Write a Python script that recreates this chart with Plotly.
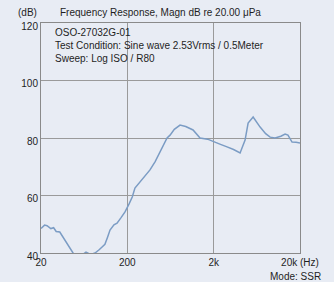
import plotly.graph_objects as go

freq_hz = [20, 22, 23.5, 26, 28, 30, 33, 36, 40, 44, 47, 52, 56.6, 61, 66.4, 75, 84.5, 95, 110, 118,
           126, 140, 152, 170, 188, 209, 228, 245, 281, 320, 366, 420, 478, 577, 625, 700, 816,
           950, 1154, 1391, 1700, 2020, 2400, 2858, 3400, 4045, 4623, 5012, 5729, 6902, 8000,
           9016, 10290, 12000, 13430, 14500, 16180, 18000, 20000]
spl_db = [48.5, 49.7, 49.5, 48.5, 48.8, 47.5, 47.3, 45.5, 43.5, 41.5, 40.0, 38.8, 38.5, 39.5, 40.3,
          39.5, 40.0, 41.2, 43.0, 45.5, 48.0, 49.8, 50.4, 52.4, 54.3, 57.0, 59.5, 62.6, 64.7, 66.5,
          68.9, 71.8, 75.1, 80.0, 81.0, 83.0, 84.5, 84.0, 82.8, 80.0, 79.6, 78.6, 77.8, 76.9,
          76.0, 74.8, 79.3, 85.2, 87.3, 83.8, 81.5, 80.3, 80.0, 80.6, 81.4, 81.0, 78.6, 78.5, 78.3]

x_tickvals = [20, 200, 2000, 20000]
x_ticktext = ["20", "200", "2k", "20k (Hz)"]
y_tickvals = [40, 60, 80, 100, 120]

title_text = "Frequency Response, Magn dB re 20.00 \u03bcPa"
info_lines = ["OSO-27032G-01", "Test Condition: Sine wave 2.53Vrms / 0.5Meter", "Sweep: Log ISO / R80"]

bg = "#e8ecf4"
font = dict(family="Liberation Sans, Arial, sans-serif", size=10, color="#1e1e1e")

fig = go.Figure()
fig.add_trace(go.Scatter(x=freq_hz, y=spl_db, mode="lines",
                         line=dict(color="#7b9cc4", width=1.5), hoverinfo="skip"))

fig.update_layout(
    width=334, height=282,
    margin=dict(l=41, r=34, t=23, b=29),
    paper_bgcolor=bg, plot_bgcolor=bg,
    showlegend=False, font=font,
)
fig.update_xaxes(type="log", range=[1.30103, 4.30103], tickvals=x_tickvals, ticktext=x_ticktext,
                 showgrid=True, gridcolor="#9a9a9a", gridwidth=1,
                 showline=True, mirror=True, linecolor="#8a8a8a", linewidth=1,
                 ticks="", zeroline=False, tickfont=font)
fig.update_yaxes(range=[40, 120], tickvals=y_tickvals,
                 showgrid=True, gridcolor="#9a9a9a", gridwidth=1,
                 showline=True, mirror=True, linecolor="#8a8a8a", linewidth=1,
                 ticks="", zeroline=False, tickfont=font, ticklabelshift=3)

fig.add_annotation(text="(dB)", xref="paper", yref="paper", x=-0.0965, y=1.045,
                   xanchor="left", yanchor="middle", showarrow=False, font=font)
fig.add_annotation(text=title_text, xref="paper", yref="paper", x=0.066, y=1.045,
                   xanchor="left", yanchor="middle", showarrow=False, font=font)
fig.add_annotation(text="<br>".join(info_lines), xref="paper", yref="paper", x=0.046, y=0.99,
                   xanchor="left", yanchor="top", align="left", showarrow=False, font=font)
fig.add_annotation(text="Mode: SSR", xref="paper", yref="paper", x=1.089, y=-0.1,
                   xanchor="right", yanchor="middle", showarrow=False, font=font)

fig.write_html("out.html", config={"displayModeBar": False},
               post_script="document.body.style.margin='0';")
